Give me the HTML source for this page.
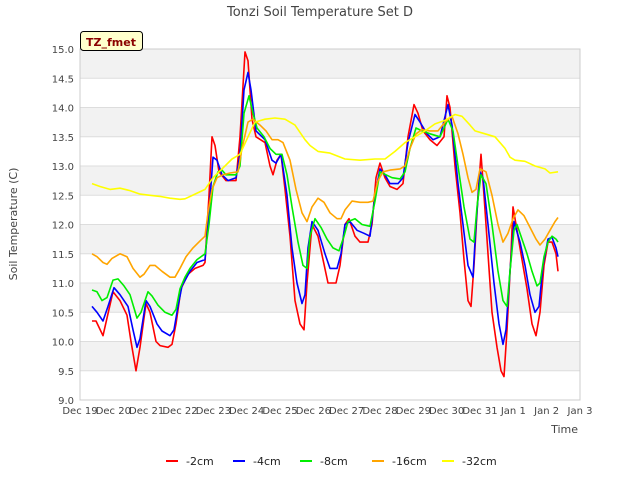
<!DOCTYPE html>
<html><head><meta charset="utf-8"><style>
body{margin:0;background:#fff;font-family:"Liberation Sans","DejaVu Sans",sans-serif}
svg text{font-family:"DejaVu Sans","Liberation Sans",sans-serif}
</style></head><body>
<svg id="chart" width="640" height="480" xmlns="http://www.w3.org/2000/svg">
<rect width="640" height="480" fill="#fff"/>
<g id="bands"></g><g id="grid"></g><g id="series"></g>
<rect x="80" y="49" width="500" height="351" fill="none" stroke="#ccc"/>
<g id="xt"></g><g id="yt"></g>
<text x="320" y="16" text-anchor="middle" font-size="13" fill="#444">Tonzi Soil Temperature Set D</text>
<text transform="translate(17,224) rotate(-90)" text-anchor="middle" font-size="11" fill="#444">Soil Temperature (C)</text>
<text x="578" y="433" text-anchor="end" font-size="11" fill="#444">Time</text>
<g><rect x="80.5" y="31.5" width="62" height="19" rx="3" fill="#ffffcc" stroke="#000"/>
<text x="111" y="46" text-anchor="middle" font-size="11" font-weight="bold" fill="#8b0000">TZ_fmet</text></g>
<g id="legend"></g>
</svg>
<script>
const tickLabels=["Dec 19","Dec 20","Dec 21","Dec 22","Dec 23","Dec 24","Dec 25","Dec 26","Dec 27","Dec 28","Dec 29","Dec 30","Dec 31","Jan 1","Jan 2","Jan 3"];
const yTicks=[9.0,9.5,10.0,10.5,11.0,11.5,12.0,12.5,13.0,13.5,14.0,14.5,15.0];
const seriesNames=["-2cm","-4cm","-8cm","-16cm","-32cm"];
const seriesColors=["#ff0000","#0000ff","#00ee00","#ffa500","#ffff00"];
const d2=[[.36,10.35],[.48,10.35],[.69,10.1],[.81,10.4],[.99,10.85],[1.2,10.7],[1.41,10.45],[1.53,10.0],[1.68,9.5],[1.8,9.9],[1.98,10.65],[2.1,10.5],[2.28,10.0],[2.4,9.93],[2.64,9.9],[2.76,9.95],[2.88,10.3],[3.03,10.9],[3.24,11.15],[3.45,11.25],[3.69,11.3],[3.75,11.35],[3.87,12.5],[3.96,13.5],[4.05,13.35],[4.17,12.9],[4.38,12.75],[4.68,12.75],[4.8,13.5],[4.95,14.95],[5.04,14.8],[5.16,13.8],[5.28,13.5],[5.55,13.4],[5.7,13.0],[5.79,12.85],[5.91,13.1],[6.03,13.2],[6.15,12.6],[6.3,11.8],[6.45,10.7],[6.6,10.3],[6.72,10.2],[6.81,11.0],[6.96,12.0],[7.14,11.8],[7.29,11.4],[7.44,11.0],[7.68,11.0],[7.8,11.3],[7.95,12.0],[8.07,12.1],[8.25,11.8],[8.4,11.7],[8.64,11.7],[8.76,12.0],[8.88,12.8],[9.0,13.05],[9.15,12.8],[9.3,12.65],[9.51,12.6],[9.69,12.7],[9.84,13.5],[10.02,14.05],[10.14,13.9],[10.29,13.6],[10.5,13.45],[10.71,13.35],[10.92,13.5],[11.01,14.2],[11.1,14.0],[11.25,13.0],[11.4,12.2],[11.52,11.4],[11.64,10.7],[11.73,10.6],[11.82,11.3],[11.94,12.5],[12.03,13.2],[12.12,12.5],[12.24,11.5],[12.36,10.5],[12.51,9.9],[12.63,9.5],[12.72,9.4],[12.81,10.2],[12.93,11.5],[12.99,12.3],[13.11,11.9],[13.26,11.4],[13.41,10.9],[13.56,10.3],[13.68,10.1],[13.8,10.5],[13.92,11.3],[14.04,11.7],[14.16,11.7],[14.28,11.5],[14.34,11.2]];
const d4=[[.36,10.6],[.51,10.5],[.69,10.35],[.84,10.6],[1.02,10.92],[1.2,10.8],[1.44,10.6],[1.59,10.2],[1.71,9.9],[1.8,10.05],[1.98,10.7],[2.1,10.6],[2.31,10.3],[2.46,10.18],[2.7,10.1],[2.82,10.2],[2.94,10.6],[3.06,10.95],[3.3,11.2],[3.51,11.35],[3.75,11.4],[3.87,12.2],[3.99,13.15],[4.11,13.1],[4.26,12.85],[4.44,12.75],[4.68,12.8],[4.8,13.2],[4.92,14.3],[5.04,14.6],[5.13,14.3],[5.28,13.6],[5.55,13.45],[5.76,13.1],[5.88,13.05],[6.03,13.2],[6.21,12.5],[6.36,11.6],[6.51,11.0],[6.66,10.65],[6.75,10.8],[6.84,11.6],[6.96,12.05],[7.14,11.9],[7.35,11.5],[7.5,11.25],[7.71,11.25],[7.83,11.5],[7.95,12.0],[8.1,12.05],[8.31,11.9],[8.52,11.85],[8.7,11.8],[8.85,12.5],[9.0,12.95],[9.15,12.85],[9.3,12.7],[9.54,12.7],[9.69,12.8],[9.84,13.4],[10.05,13.88],[10.2,13.75],[10.41,13.55],[10.59,13.45],[10.8,13.5],[11.04,14.05],[11.16,13.7],[11.34,12.7],[11.49,12.0],[11.64,11.3],[11.79,11.1],[11.88,12.0],[12.0,12.9],[12.09,12.8],[12.24,12.0],[12.42,11.0],[12.57,10.3],[12.69,9.95],[12.78,10.2],[12.9,11.2],[13.02,12.05],[13.2,11.7],[13.35,11.3],[13.5,10.8],[13.65,10.5],[13.77,10.6],[13.89,11.3],[14.04,11.75],[14.16,11.78],[14.28,11.6],[14.34,11.45]];
const d8=[[.36,10.88],[.51,10.85],[.66,10.7],[.81,10.75],[.99,11.05],[1.14,11.07],[1.32,10.95],[1.5,10.8],[1.71,10.4],[1.83,10.5],[2.04,10.85],[2.16,10.78],[2.34,10.62],[2.55,10.5],[2.76,10.45],[2.88,10.55],[3.0,10.9],[3.15,11.1],[3.3,11.25],[3.51,11.4],[3.75,11.5],[3.87,12.0],[3.99,12.65],[4.14,12.9],[4.26,12.93],[4.38,12.85],[4.68,12.85],[4.8,13.0],[4.92,13.9],[5.07,14.2],[5.19,13.9],[5.31,13.65],[5.52,13.5],[5.7,13.3],[5.88,13.2],[6.06,13.2],[6.21,12.85],[6.36,12.3],[6.54,11.7],[6.69,11.3],[6.81,11.25],[6.9,11.8],[7.05,12.1],[7.23,11.95],[7.41,11.75],[7.59,11.6],[7.77,11.55],[7.92,11.8],[8.04,12.05],[8.25,12.1],[8.46,12.0],[8.7,11.97],[8.85,12.4],[9.0,12.9],[9.18,12.85],[9.36,12.8],[9.6,12.78],[9.75,12.9],[9.9,13.3],[10.08,13.65],[10.26,13.6],[10.5,13.55],[10.8,13.5],[11.04,13.8],[11.19,13.6],[11.34,13.0],[11.52,12.3],[11.7,11.75],[11.82,11.7],[11.91,12.3],[12.03,12.85],[12.18,12.7],[12.36,12.0],[12.54,11.2],[12.69,10.7],[12.81,10.6],[12.9,11.2],[13.02,11.9],[13.11,12.0],[13.26,11.75],[13.41,11.5],[13.56,11.2],[13.71,10.95],[13.8,11.0],[13.92,11.45],[14.04,11.7],[14.16,11.8],[14.28,11.75],[14.34,11.7]];
const d16=[[.36,11.5],[.51,11.45],[.69,11.35],[.81,11.32],[.96,11.42],[1.2,11.5],[1.41,11.45],[1.59,11.25],[1.8,11.1],[1.92,11.15],[2.1,11.3],[2.25,11.3],[2.46,11.2],[2.7,11.1],[2.85,11.1],[3.0,11.25],[3.18,11.45],[3.39,11.6],[3.6,11.72],[3.75,11.8],[3.84,12.2],[3.96,12.6],[4.11,12.8],[4.29,12.85],[4.5,12.88],[4.74,12.9],[4.86,13.3],[5.04,13.75],[5.19,13.8],[5.4,13.7],[5.58,13.6],[5.76,13.45],[5.94,13.45],[6.09,13.4],[6.3,13.1],[6.48,12.6],[6.66,12.2],[6.81,12.05],[6.96,12.3],[7.14,12.45],[7.32,12.38],[7.5,12.2],[7.71,12.1],[7.83,12.1],[7.95,12.25],[8.16,12.4],[8.4,12.38],[8.64,12.38],[8.79,12.4],[8.94,12.75],[9.09,12.9],[9.3,12.93],[9.6,12.95],[9.75,13.0],[9.9,13.3],[10.08,13.55],[10.26,13.62],[10.5,13.6],[10.74,13.6],[10.95,13.75],[11.16,13.85],[11.34,13.55],[11.49,13.2],[11.64,12.8],[11.76,12.55],[11.88,12.6],[12.0,12.95],[12.18,12.9],[12.36,12.5],[12.54,12.0],[12.69,11.7],[12.84,11.85],[12.99,12.1],[13.14,12.25],[13.32,12.15],[13.5,11.95],[13.68,11.75],[13.8,11.65],[13.95,11.75],[14.1,11.9],[14.25,12.05],[14.34,12.12]];
const d32=[[.36,12.7],[.6,12.65],[.9,12.6],[1.2,12.62],[1.5,12.58],[1.8,12.52],[2.1,12.5],[2.4,12.48],[2.7,12.45],[3.0,12.43],[3.15,12.44],[3.45,12.52],[3.75,12.6],[3.99,12.8],[4.26,12.95],[4.56,13.12],[4.8,13.2],[5.04,13.5],[5.25,13.75],[5.55,13.8],[5.85,13.82],[6.15,13.8],[6.45,13.7],[6.75,13.45],[6.9,13.35],[7.14,13.25],[7.5,13.22],[7.95,13.12],[8.4,13.1],[8.85,13.12],[9.15,13.12],[9.45,13.25],[9.75,13.4],[10.05,13.5],[10.35,13.6],[10.65,13.72],[10.95,13.78],[11.25,13.88],[11.46,13.85],[11.7,13.7],[11.85,13.6],[12.15,13.55],[12.45,13.5],[12.75,13.3],[12.9,13.15],[13.05,13.1],[13.35,13.08],[13.65,13.0],[13.95,12.95],[14.1,12.88],[14.34,12.9]];
const allSeries=[d2,d4,d8,d16,d32];
const NS="http://www.w3.org/2000/svg";
const X0=80,X1=580,Y0=400,Y1=49,VMIN=9,VMAX=15,DAYS=15;
function xs(d){return X0+(X1-X0)*d/DAYS;}
function ys(v){return Y0-(Y0-Y1)*(v-VMIN)/(VMAX-VMIN);}
function mk(tag,attrs,parent){const e=document.createElementNS(NS,tag);for(const k in attrs)e.setAttribute(k,attrs[k]);document.getElementById(parent).appendChild(e);return e;}
for(let i=0;i<yTicks.length-1;i++){
  if(i%2===1){const r=mk('rect',{x:X0,y:ys(yTicks[i+1]),width:X1-X0,height:ys(yTicks[i])-ys(yTicks[i+1]),fill:'#f2f2f2'},'bands');
  
  }
}
yTicks.forEach(v=>{
  const l=mk('line',{x1:X0,x2:X1,y1:ys(v),y2:ys(v),stroke:'#ddd','stroke-width':1},'grid');
  
  
  const t=mk('text',{x:74,y:ys(v)+4,'text-anchor':'end','font-size':10,fill:'#444'},'yt');
  t.textContent=v.toFixed(1);
  
  
});
tickLabels.forEach((s,i)=>{
  const t=mk('text',{x:xs(i),y:414,'text-anchor':'middle','font-size':10,fill:'#444'},'xt');
  t.textContent=s;
  
  
});
allSeries.forEach((s,i)=>{
  const p=mk('polyline',{points:s.map(q=>xs(q[0]).toFixed(1)+','+ys(q[1]).toFixed(1)).join(' '),fill:'none',stroke:seriesColors[i],'stroke-width':1.6,'stroke-linejoin':'round'},'series');
  
  
});
const legX=[166,233,300,372,442];
seriesNames.forEach((n,i)=>{
  const l=mk('line',{x1:legX[i],x2:legX[i]+12,y1:461,y2:461,stroke:seriesColors[i],'stroke-width':2},'legend');
  
  
  const t=mk('text',{x:legX[i]+20,y:465,'font-size':11,fill:'#222'},'legend');
  t.textContent=n;
  
  
});
</script>
</body></html>
